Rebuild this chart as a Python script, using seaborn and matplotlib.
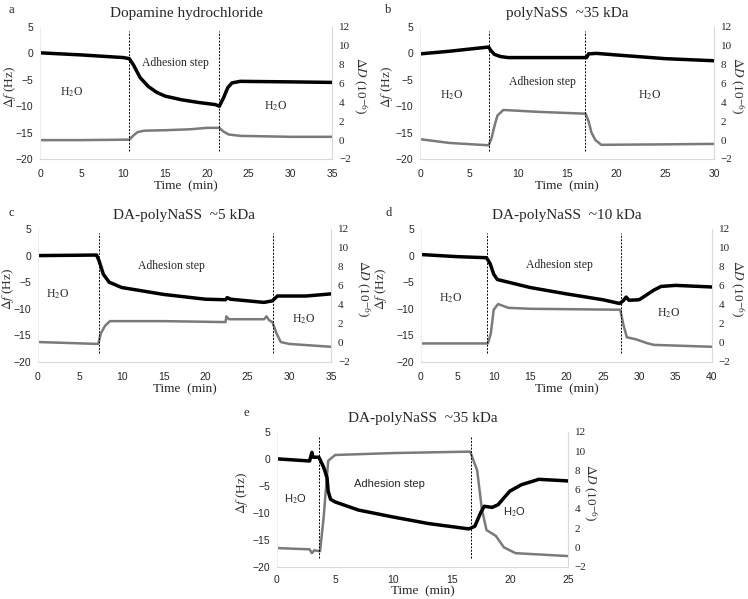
import matplotlib
matplotlib.use("Agg")
import matplotlib.pyplot as plt
import seaborn as sns

sns.set_style("white")
plt.rcParams["font.family"] = ["Liberation Serif", "DejaVu Serif"]
plt.rcParams["mathtext.fontset"] = "stix"

# panel a: Dopamine hydrochloride
a_f_t = [0, 5, 10, 10.7, 11.2, 11.6, 12, 13, 14, 15, 17, 19, 21, 21.5, 22, 22.5, 23, 24, 30, 35]
a_f = [0.1, -0.3, -0.8, -1.0, -2.2, -3.4, -4.6, -6.3, -7.4, -8.1, -8.8, -9.3, -9.7, -10.0, -8.4, -6.5, -5.6, -5.3, -5.4, -5.5]
a_d_t = [0, 5, 10.7, 11.2, 11.7, 12.5, 15, 18, 20, 21.5, 22, 22.6, 24, 30, 35]
a_d = [0.0, 0.0, 0.05, 0.5, 0.85, 1.0, 1.05, 1.15, 1.3, 1.3, 0.9, 0.6, 0.45, 0.35, 0.35]
a_marks = [10.7, 21.5]

# panel b: polyNaSS ~35 kDa
b_f_t = [0, 3, 6, 7, 7.2, 7.6, 8.2, 9, 12, 17, 17.2, 18, 20, 25, 30]
b_f = [-0.1, 0.4, 1.0, 1.2, 0.6, -0.2, -0.6, -0.8, -0.8, -0.8, -0.1, 0.0, -0.3, -1.0, -1.4]
b_d_t = [0, 3, 7, 7.3, 7.6, 7.9, 8.5, 12, 16.9, 17.2, 17.5, 17.9, 18.5, 25, 30]
b_d = [0.1, -0.3, -0.55, 0.2, 1.5, 2.6, 3.2, 3.0, 2.8, 2.0, 0.8, 0.0, -0.5, -0.45, -0.4]
b_marks = [7.0, 16.8]

# panel c: DA-polyNaSS ~5 kDa
c_f_t = [0, 7, 7.3, 7.8, 8.5, 10, 15, 20, 22.4, 22.6, 23, 27, 28, 28.6, 29, 32, 35]
c_f = [0.0, 0.1, -1.0, -3.5, -5.0, -6.0, -7.3, -8.2, -8.3, -7.9, -8.2, -8.8, -8.5, -7.6, -7.6, -7.6, -7.2]
c_d_t = [0, 7.2, 7.5, 8.0, 8.6, 15, 22.4, 22.5, 22.8, 27, 27.3, 27.6, 28, 28.5, 29, 30, 35]
c_d = [0.1, -0.1, 1.0, 1.8, 2.3, 2.3, 2.2, 2.8, 2.5, 2.5, 2.8, 2.4, 2.2, 1.0, 0.1, -0.1, -0.4]
c_marks = [7.25, 28.1]

# panel d: DA-polyNaSS ~10 kDa
d_f_t = [0, 5, 9, 9.5, 10, 10.5, 12, 15, 20, 25, 27.3, 27.8, 28.2, 28.6, 30, 32, 33, 35, 40]
d_f = [0.2, -0.2, -0.4, -1.5, -3.5, -4.5, -5.0, -6.0, -7.2, -8.3, -9.0, -8.5, -7.8, -8.4, -8.3, -6.5, -5.8, -5.6, -5.9]
d_d_t = [0, 9.2, 9.6, 10.0, 10.6, 12, 15, 27.4, 27.8, 28.3, 29.5, 31, 32, 40]
d_d = [-0.05, -0.05, 1.0, 3.5, 4.1, 3.7, 3.6, 3.5, 2.0, 0.6, 0.4, 0.0, -0.2, -0.4]
d_marks = [9.1, 27.5]

# panel e: DA-polyNaSS ~35 kDa
e_f_t = [0, 2.8, 3.0, 3.1, 3.6, 4.0, 4.3, 4.4, 4.6, 5, 7, 10, 13, 16.5, 17, 17.5, 17.8, 18.5, 19, 20, 21, 22.5, 25]
e_f = [0.0, -0.4, 1.2, 0.3, 0.3, -1.5, -3.5, -6.0, -7.5, -8.0, -9.5, -10.8, -12.0, -13.0, -12.5, -10.0, -8.8, -9.0, -8.5, -6.0, -4.8, -3.8, -4.1]
e_d_t = [0, 2.8, 3.0, 3.2, 3.7, 4.0, 4.2, 4.4, 5, 10, 16.6, 17.2, 17.6, 18, 18.8, 19.5, 20.5, 25]
e_d = [-0.07, -0.2, -0.6, -0.3, -0.4, 3.0, 6.0, 9.0, 9.6, 9.8, 9.95, 8.0, 4.0, 1.8, 1.2, 0.0, -0.6, -0.9]
e_marks = [3.6, 16.7]

titles = ["Dopamine hydrochloride", "polyNaSS  ~35 kDa", "DA-polyNaSS  ~5 kDa",
          "DA-polyNaSS  ~10 kDa", "DA-polyNaSS  ~35 kDa"]
letters = ["a", "b", "c", "d", "e"]
x_max = [35, 30, 35, 40, 25]

# label positions (time, Hz) for H2O / adhesion text
labels_a = [(3.8, -7.4, "H$_2$O"), (16.2, -1.9, "Adhesion step"), (28.2, -10.0, "H$_2$O")]
labels_b = [(3.2, -8.0, "H$_2$O"), (12.5, -5.5, "Adhesion step"), (23.4, -8.0, "H$_2$O")]
labels_c = [(2.4, -7.3, "H$_2$O"), (15.9, -1.9, "Adhesion step"), (31.7, -12.0, "H$_2$O")]
labels_d = [(4.1, -8.0, "H$_2$O"), (19.0, -1.8, "Adhesion step"), (34.0, -10.8, "H$_2$O")]
labels_e = [(1.6, -7.5, "H$_2$O"), (9.7, -4.75, "Adhesion step"), (20.4, -10.0, "H$_2$O")]

panels = [
    (a_f_t, a_f, a_d_t, a_d, a_marks, labels_a),
    (b_f_t, b_f, b_d_t, b_d, b_marks, labels_b),
    (c_f_t, c_f, c_d_t, c_d, c_marks, labels_c),
    (d_f_t, d_f, d_d_t, d_d, d_marks, labels_d),
    (e_f_t, e_f, e_d_t, e_d, e_marks, labels_e),
]

# axes rectangles in figure fraction
rects = [
    [0.0535, 0.7346, 0.3904, 0.2204],
    [0.5615, 0.7346, 0.3930, 0.2204],
    [0.0508, 0.3957, 0.3917, 0.2220],
    [0.5628, 0.3957, 0.3890, 0.2220],
    [0.3703, 0.0540, 0.3890, 0.2250],
]
letter_pos = [(0.012, 0.983), (0.515, 0.983), (0.012, 0.645), (0.515, 0.645), (0.326, 0.31)]
left_lab_x = [-0.103, -0.112, -0.102, -0.137, -0.12]
right_lab_x = [1.096, 1.08, 1.109, 1.086, 1.075]

spine_col = "#d9d9d9"
gray_col = "#7a7a7a"
sans = ["Liberation Sans", "DejaVu Sans"]

fig = plt.figure(figsize=(7.48, 5.99), dpi=100)

for i, (ft, fv, dt, dv, marks, labels) in enumerate(panels):
    ax = fig.add_axes(rects[i])
    ax2 = ax.twinx()
    ax.set_zorder(ax2.get_zorder() + 1)
    ax.patch.set_visible(False)

    sns.lineplot(x=dt, y=dv, ax=ax2, color=gray_col, linewidth=1.8)
    sns.lineplot(x=ft, y=fv, ax=ax, color="black", linewidth=2.5)
    ax.vlines(marks, -18.4, 4.3, colors="black", linestyles=(0, (2, 1.5)), linewidth=0.7)

    ax.set_xlim(0, x_max[i])
    ax.set_ylim(-20, 5)
    ax2.set_ylim(-2, 12)
    ax.set_xticks(range(0, x_max[i] + 1, 5))
    ax.set_yticks(range(-20, 6, 5))
    ax2.set_yticks(range(-2, 13, 2))

    for t in ax.get_xticklabels() + ax.get_yticklabels():
        t.set_family(sans)
        t.set_fontsize(7.5)
    for t in ax2.get_yticklabels():
        t.set_fontsize(8)
    ax.tick_params(axis="x", length=0, pad=6 if i == 4 else 7)
    ax.tick_params(axis="y", length=0, pad=5)
    ax2.tick_params(length=0, pad=5)

    ax.spines["top"].set_visible(False)
    ax2.spines["top"].set_visible(False)
    ax.spines["right"].set_visible(False)
    ax2.spines["left"].set_visible(False)
    ax.spines["left"].set_color("#eeeeee")
    ax.spines["bottom"].set_color(spine_col)
    ax2.spines["right"].set_color(spine_col)
    ax2.spines["bottom"].set_visible(False)

    ax.set_xlabel("Time  (min)", fontsize=9.5, labelpad=0 if i == 4 else 1)
    ax.set_ylabel(r"$\Delta f$ (Hz)", fontsize=9.5, color="#333333", va="center", ha="center")
    ax.yaxis.set_label_coords(left_lab_x[i], 0.55)
    ax2.set_ylabel(r"$\Delta D$ (10$^{-6}$)", fontsize=9.5, rotation=270,
                   color="#333333", va="center", ha="center")
    ax2.yaxis.set_label_coords(right_lab_x[i], 0.55)
    ax.set_title(titles[i], fontsize=11, pad=7)

    for tx, ty, s in labels:
        if i == 4:
            ax.text(tx, ty, s, ha="center", va="center", fontsize=8, family=sans)
        else:
            ax.text(tx, ty, s, ha="center", va="center", fontsize=8.5)

    fig.text(letter_pos[i][0], letter_pos[i][1], letters[i], fontsize=9, va="center")

fig.savefig("out.png", dpi=100)
